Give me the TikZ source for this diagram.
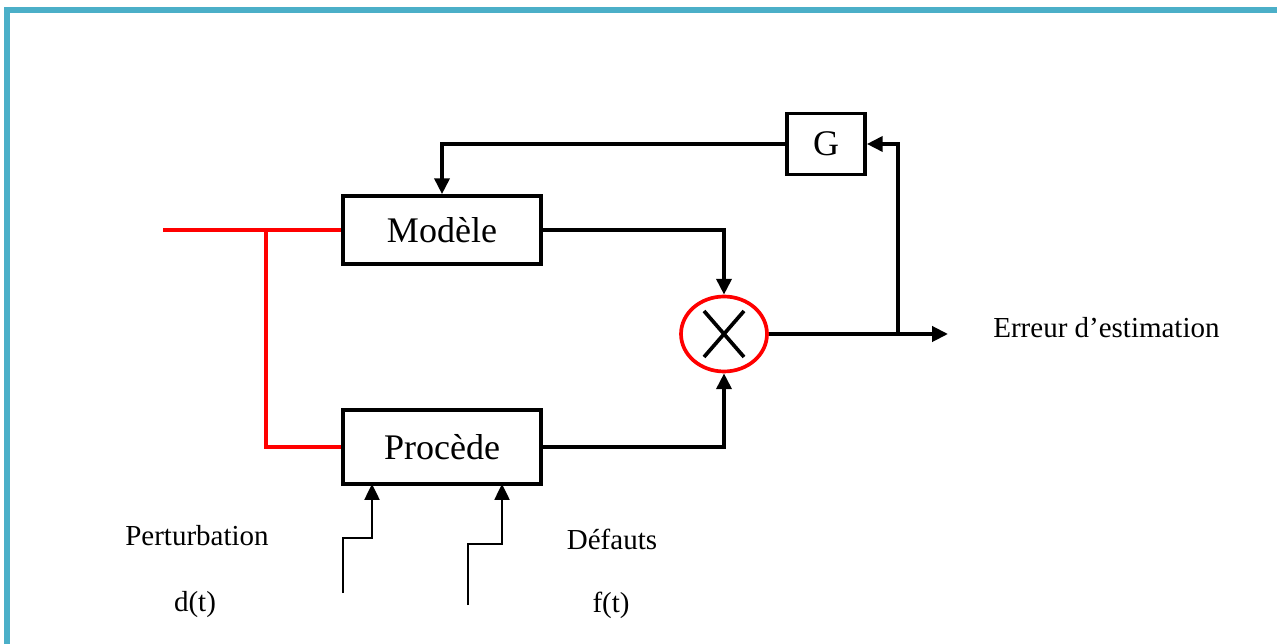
\documentclass[tikz,border=0pt]{standalone}
\usepackage{fontspec}
\setmainfont{Liberation Serif}
\usetikzlibrary{arrows.meta,positioning,calc,shapes.geometric}

\definecolor{framecol}{RGB}{75,175,200}

\tikzset{
  block/.style={draw,line width=2.1pt,inner sep=0pt,font=\fontsize{20.5}{24}\selectfont},
  sumnode/.style={draw=red,ellipse,line width=2.1pt,inner sep=0pt,minimum width=1.72cm,minimum height=1.5cm},
  wire/.style={line width=2.1pt},
  redwire/.style={red,line width=2.1pt},
  inwire/.style={line width=1.2pt},
  lbl/.style={font=\fontsize{16.5}{20}\selectfont},
}

\begin{document}
\begin{tikzpicture}[x=0.02cm,y=-0.02cm,>={Triangle[length=9pt,width=8.5pt]}]
    \useasboundingbox (0,0) rectangle (1277,644);
    \clip (0,0) rectangle (1277,644);
    % frame
    \draw[framecol,line width=3.8pt] (7,10) rectangle (1300,680);
    % blocks
    \node[block,minimum width=3.96cm,minimum height=1.36cm] (modele) at (442,230) {Modèle};
    \node[block,minimum width=3.96cm,minimum height=1.48cm] (proc) at (442,447) {Procède};
    \node[block,minimum width=1.56cm,minimum height=1.22cm] (g) at (826,144) {G};
    \node[sumnode] (sum) at (724,334) {};
    \draw[wire] ($(sum)+(-20,-23)$) -- ($(sum)+(20,23)$);
    \draw[wire] ($(sum)+(-20,23)$) -- ($(sum)+(20,-23)$);
    % output and feedback
    \coordinate (branch) at (898,334);
    \coordinate (out) at (948,334);
    \draw[wire,->] (modele) -| (sum);
    \draw[wire,->] (proc) -| (sum);
    \draw[wire,->] (sum) -- (out);
    \draw[wire,->] (branch) |- (g);
    \draw[wire,->] (g) -| (modele);
    % input (red)
    \coordinate (in) at (163,230);
    \coordinate (split) at (266,230);
    \draw[redwire] (in) -- (modele);
    \draw[redwire] (split) |- (proc);
    % step inputs
    \coordinate (dlow) at (343,593);
    \coordinate (dtip) at (372,484);
    \coordinate (flow) at (468,605);
    \coordinate (ftip) at (502,484);
    \draw[inwire,->] (dlow) |- (372,538) -- (dtip);
    \draw[inwire,->] (flow) |- (502,544) -- (ftip);
    % labels
    \node[lbl] (pert) at (197,536) {Perturbation};
    \node[lbl] (dt) at (195,605) {d(t)};
    \node[lbl] (def) at (612,539) {Défauts};
    \node[lbl] (ft) at (611,605) {f(t)};
    \node[lbl,right,inner sep=0pt] (err) at (993,328) {Erreur d’estimation};
  \end{tikzpicture}
\end{document}
